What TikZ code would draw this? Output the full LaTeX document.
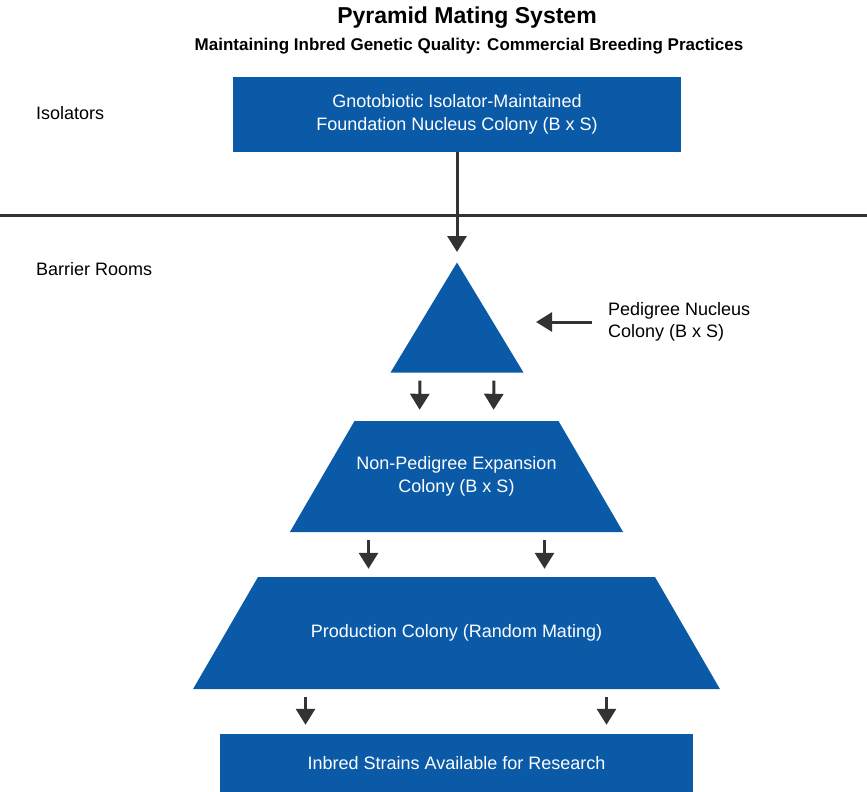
\documentclass[tikz,border=0pt]{standalone}
\usepackage{fontspec}
\setmainfont{Liberation Sans}
\usetikzlibrary{arrows.meta,positioning,shapes.geometric}
\definecolor{matingblue}{RGB}{11,90,168}
\definecolor{arrowgray}{RGB}{51,51,51}
\tikzset{
    colonytext/.style={text=white,align=center,inner sep=0pt,font=\fontsize{18}{23}\selectfont},
    colonybox/.style={rectangle,fill=matingblue,colonytext},
    colonytrap/.style={trapezium,fill=matingblue},
    colonytri/.style={isosceles triangle,isosceles triangle stretches,shape border rotate=90,fill=matingblue,inner sep=0pt},
    zonelabel/.style={anchor=west,inner sep=0pt,font=\fontsize{18}{22}\selectfont},
    flowline/.style={-{Triangle[width=19pt,length=16pt]},line width=3pt,draw=arrowgray},
    zoneline/.style={line width=3pt,draw=arrowgray}
}
\begin{document}
\begin{tikzpicture}[x=1pt,y=-1pt]
    \useasboundingbox (0,0) rectangle (867,792);
    \node[font=\fontsize{23}{27}\selectfont\bfseries] (title) at (467,18) {Pyramid Mating System};
    \node[font=\fontsize{17}{20}\selectfont\bfseries] (subtitle) at (469,46) {Maintaining Inbred Genetic Quality: Commercial Breeding Practices};
    \node[zonelabel] (isolators) at (36,113) {Isolators};
    \node[zonelabel] (barrier) at (36,269) {Barrier Rooms};
    \coordinate (sepleft) at (0,215);
    \coordinate (sepright) at (867,215);
    \draw[zoneline] (sepleft) -- (sepright);
    \node[colonybox,minimum width=448pt,minimum height=75pt] (foundation) at (457,114.5) {Gnotobiotic Isolator-Maintained\\Foundation Nucleus Colony (B x S)};
    \node[colonytri,minimum width=133pt,minimum height=110pt,anchor=apex] (pedigree) at (457,262) {};
    \node[zonelabel,align=left] (pednote) at (608,322) {Pedigree Nucleus\\Colony (B x S)};
    % trapezia: empty body sized by inner sep so the side angles stay as given
    \node[colonytrap,trapezium left angle=59.8,trapezium right angle=59.8,inner xsep=102pt,inner ysep=55.5pt,
        label={[colonytext]center:Non-Pedigree Expansion\\Colony (B x S)}] (expansion) at (456.5,476.5) {};
    \node[colonytrap,trapezium left angle=59.9,trapezium right angle=59.9,inner xsep=198.5pt,inner ysep=56pt,
        label={[colonytext]center:Production Colony (Random Mating)}] (production) at (456.5,633) {};
    \node[colonybox,minimum width=473pt,minimum height=58pt] (research) at (456.5,763) {Inbred Strains Available for Research};
    \draw[flowline,shorten >=10pt] (foundation) -- (pedigree.apex);
    \draw[flowline,shorten <=16pt,shorten >=35pt] (pednote.west) -- (pednote.west -| pedigree.east);
    \foreach \dx in {-37,37}
        \draw[flowline,shorten <=8pt,shorten >=11pt] ([xshift=\dx pt]pedigree.south) -- ([xshift=\dx pt]expansion.north);
    \foreach \dx in {-88,88}
        \draw[flowline,shorten <=8pt,shorten >=8pt] ([xshift=\dx pt]expansion.south) -- ([xshift=\dx pt]production.north);
    \foreach \dx in {-151,150}
        \draw[flowline,shorten <=8pt,shorten >=9pt] ([xshift=\dx pt]production.south) -- ([xshift=\dx pt]research.north);
\end{tikzpicture}
\end{document}
